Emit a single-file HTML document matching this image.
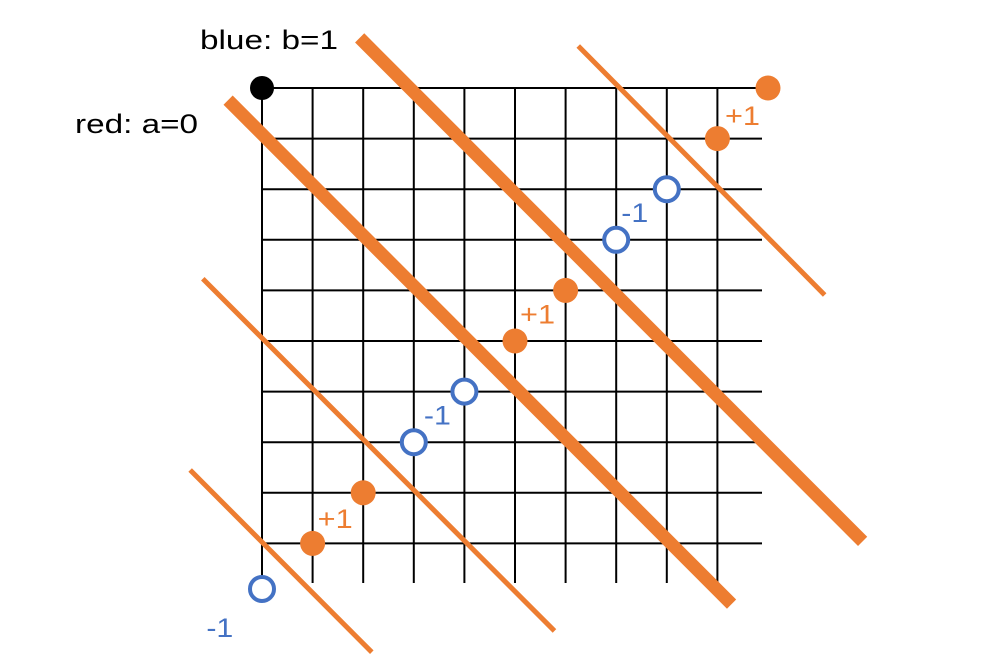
<!DOCTYPE html>
<html><head><meta charset="utf-8"><style>
html,body{margin:0;padding:0;background:#fff;}
svg{display:block;font-family:"Liberation Sans","Noto Sans CJK JP",sans-serif;}
</style></head><body>
<svg id="chart" width="999" height="672" viewBox="0 0 999 672"></svg>
<script>
const gridCols = 10;
const gridRows = 10;
const orangePoints = [[10,0],[9,1],[6,4],[5,5],[2,8],[1,9]];
const bluePoints = [[8,2],[7,3],[4,6],[3,7],[0,9.9]];
const blackPoints = [[0,0]];
const diagLines = [[-0.67,0.24,9.28,10.2,13],[1.93,-0.99,11.87,8.96,13],[6.25,-0.83,11.12,4.09,5],[-1.17,3.77,5.78,10.73,5],[-1.42,7.55,2.17,11.15,5]];
const annotations = [["+1",9.15,0.73,"#ed7d31",35],["-1",7.1,2.65,"#4472c4",27],["+1",5.1,4.65,"#ed7d31",35],["-1",3.2,6.65,"#4472c4",27],["+1",1.1,8.7,"#ed7d31",35],["-1",-1.1,10.85,"#4472c4",27]];
const titles = [["blue: b=1",200,49,138],["red: a=0",75,133,123]];

const X0=262, Y0=88, STEP=50.6;
const sx = i => X0 + i*STEP;
const sy = j => Y0 + j*STEP;
const svg = document.getElementById('chart');
const NS='http://www.w3.org/2000/svg';
function mk(tag, attrs){const e=document.createElementNS(NS,tag);for(const k in attrs)e.setAttribute(k,attrs[k]);svg.appendChild(e);return e;}

for(let j=0;j<gridRows;j++){
  const l=mk('line',{x1:sx(0),y1:sy(j),x2:762,y2:sy(j),stroke:'#000','stroke-width':2});
  
  
}
for(let i=0;i<gridCols;i++){
  const l=mk('line',{x1:sx(i),y1:sy(0),x2:sx(i),y2:583,stroke:'#000','stroke-width':2});
  
  
}
diagLines.forEach(d=>{
  const l=mk('line',{x1:sx(d[0]),y1:sy(d[1]),x2:sx(d[2]),y2:sy(d[3]),stroke:'#ed7d31','stroke-width':d[4]});
  
  
});
blackPoints.forEach(p=>{
  const c=mk('circle',{cx:sx(p[0]),cy:sy(p[1]),r:12,fill:'#000'});
  
  
});
orangePoints.forEach(p=>{
  const c=mk('circle',{cx:sx(p[0]),cy:sy(p[1]),r:12.5,fill:'#ed7d31'});
  
  
});
bluePoints.forEach(p=>{
  const c=mk('circle',{cx:sx(p[0]),cy:sy(p[1]),r:12,fill:'#fff',stroke:'#4472c4','stroke-width':4});
  
  
});
annotations.forEach(a=>{
  const t=mk('text',{x:sx(a[1]),y:sy(a[2]),fill:a[3],'font-size':27,textLength:a[4],lengthAdjust:'spacingAndGlyphs'});
  t.textContent=a[0];
  
  
});
titles.forEach(a=>{
  const t=mk('text',{x:a[1],y:a[2],fill:'#000','font-size':27,textLength:a[3],lengthAdjust:'spacingAndGlyphs'});
  t.textContent=a[0];
  
  
});
</script>
</body></html>
